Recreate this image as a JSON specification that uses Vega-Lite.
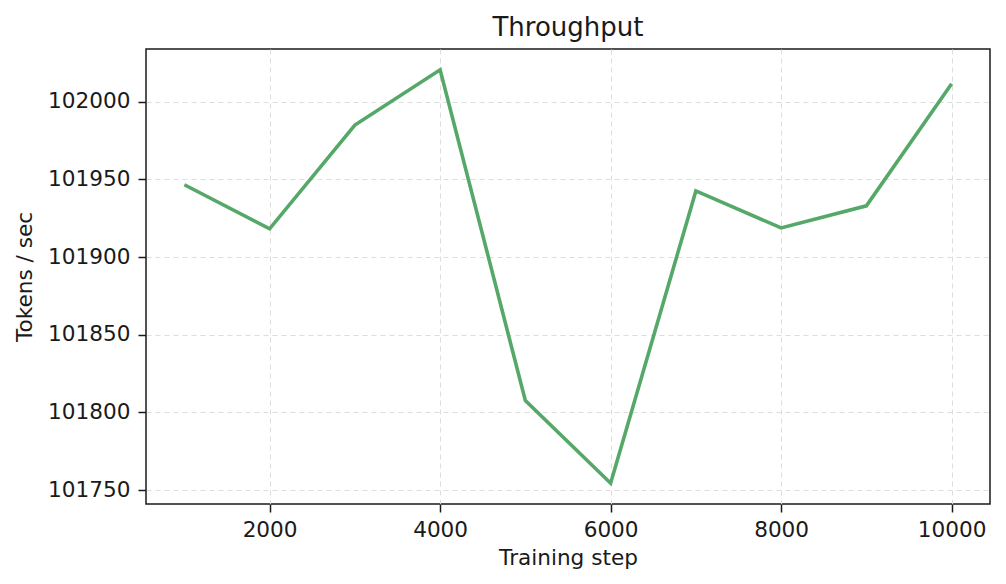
{
  "$schema": "https://vega.github.io/schema/vega-lite/v6.json",
  "width": 844,
  "height": 455,
  "autosize": {"type": "none"},
  "padding": {"left": 146, "top": 49, "right": 16, "bottom": 80},
  "background": "white",
  "config": {
    "font": "DejaVu Sans",
    "view": {"stroke": "#1a1a1a", "strokeWidth": 1.5},
    "axis": {
      "domain": false,
      "labelFont": "DejaVu Sans",
      "labelFontSize": 21.6,
      "labelColor": "#1a1a1a",
      "titleFont": "DejaVu Sans",
      "titleFontSize": 21.6,
      "titleFontWeight": "normal",
      "titleColor": "#1a1a1a",
      "tickColor": "#1a1a1a",
      "tickSize": 8,
      "tickWidth": 1.5,
      "grid": true,
      "gridColor": "#dddddd",
      "gridDash": [5, 4],
      "gridWidth": 1
    },
    "title": {"font": "DejaVu Sans", "fontSize": 26, "fontWeight": "normal", "color": "#1a1a1a", "offset": 8}
  },
  "title": "Throughput",
  "data": {
    "values": [
      {"step": 1000, "tps": 101946.6},
      {"step": 2000, "tps": 101918.2},
      {"step": 3000, "tps": 101985.0},
      {"step": 4000, "tps": 102020.6},
      {"step": 5000, "tps": 101807.6},
      {"step": 6000, "tps": 101754.4},
      {"step": 7000, "tps": 101942.6},
      {"step": 8000, "tps": 101918.8},
      {"step": 9000, "tps": 101933.0},
      {"step": 10000, "tps": 102011.6}
    ]
  },
  "mark": {"type": "line", "color": "#55a868", "strokeWidth": 3.6, "strokeJoin": "miter", "clip": true},
  "encoding": {
    "x": {
      "field": "step",
      "type": "quantitative",
      "title": "Training step",
      "scale": {"domain": [550, 10450], "nice": false, "zero": false},
      "axis": {"values": [2000, 4000, 6000, 8000, 10000], "format": "d", "labelPadding": 7, "titlePadding": 7}
    },
    "y": {
      "field": "tps",
      "type": "quantitative",
      "title": "Tokens / sec",
      "scale": {"domain": [101741.0, 102034.0], "nice": false, "zero": false},
      "axis": {"values": [101750, 101800, 101850, 101900, 101950, 102000], "format": "d", "labelPadding": 8, "titlePadding": 11}
    }
  }
}
